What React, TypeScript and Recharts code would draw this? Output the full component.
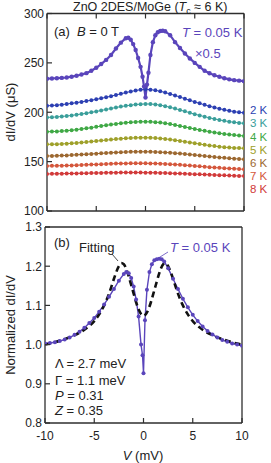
import React from 'react';
import { LineChart, Line, XAxis, YAxis } from 'recharts';

const FONT = '"Liberation Sans", Arial, Helvetica, sans-serif';
const AXIS = '#2e2e2e';
const PURPLE = '#5a45bb';

// bias grid (mV) for the 2-8 K traces
const V_GRID = [
  -10, -9.5, -9, -8.5, -8, -7.5, -7, -6.5, -6, -5.5, -5, -4.5, -4, -3.5, -3, -2.5, -2, -1.5, -1, -0.5,
  0, 0.5, 1, 1.5, 2, 2.5, 3, 3.5, 4, 4.5, 5, 5.5, 6, 6.5, 7, 7.5, 8, 8.5, 9, 9.5, 10,
];

const G_2K = [
  206.5, 206.8, 207.2, 207.7, 208.3, 209, 209.7, 210.5, 211.3, 212.2, 213.1, 214.1, 215.2, 216.3, 217.5, 218.7, 219.9, 221, 222, 222.8,
  223.1, 222.9, 222.2, 221.2, 219.9, 218.5, 217, 215.4, 213.7, 212.1, 210.5, 209, 207.5, 206.1, 204.8, 203.6, 202.5, 201.5, 200.6, 199.9, 199.4,
];
const G_3K = [
  194.8, 195, 195.3, 195.7, 196.2, 196.8, 197.5, 198.2, 199, 199.9, 200.8, 201.8, 202.8, 203.8, 204.8, 205.7, 206.5, 207.2, 207.8, 208.2,
  208.4, 208.3, 207.9, 207.2, 206.2, 205, 203.7, 202.3, 200.9, 199.5, 198.1, 196.8, 195.5, 194.3, 193.2, 192.2, 191.3, 190.5, 189.8, 189.2, 188.8,
];
const G_4K = [
  180.3, 180.4, 180.6, 180.9, 181.3, 181.8, 182.4, 183, 183.7, 184.4, 185.2, 186, 186.8, 187.5, 188.2, 188.8, 189.4, 189.8, 190.2, 190.4,
  190.4, 190.3, 190, 189.5, 188.8, 188, 187.1, 186.1, 185.1, 184.1, 183.1, 182.1, 181.2, 180.3, 179.5, 178.7, 178, 177.4, 176.9, 176.4, 176,
];
const G_5K = [
  167.5, 167.6, 167.7, 167.9, 168.2, 168.5, 168.9, 169.3, 169.8, 170.3, 170.8, 171.3, 171.8, 172.3, 172.8, 173.2, 173.6, 173.9, 174.1, 174.2,
  174.2, 174.1, 173.9, 173.5, 173, 172.4, 171.7, 171, 170.2, 169.4, 168.6, 167.8, 167, 166.3, 165.7, 165.1, 164.6, 164.2, 163.9, 163.7, 163.5,
];
const G_6K = [
  155.7, 155.8, 155.9, 156.1, 156.3, 156.6, 156.9, 157.2, 157.5, 157.8, 158.1, 158.4, 158.7, 159, 159.3, 159.5, 159.7, 159.9, 160, 160,
  160, 159.9, 159.8, 159.6, 159.3, 159, 158.6, 158.2, 157.7, 157.2, 156.7, 156.2, 155.7, 155.2, 154.7, 154.2, 153.8, 153.4, 153, 152.7, 152.4,
];
const G_7K = [
  145.6, 145.7, 145.8, 145.9, 146, 146.2, 146.4, 146.6, 146.8, 147, 147.2, 147.4, 147.6, 147.8, 148, 148.1, 148.2, 148.3, 148.3, 148.3,
  148.3, 148.2, 148.1, 147.9, 147.7, 147.4, 147.1, 146.8, 146.4, 146, 145.6, 145.2, 144.8, 144.4, 144, 143.7, 143.4, 143.1, 142.8, 142.5, 142.2,
];
const G_8K = [
  137.5, 137.6, 137.7, 137.8, 137.9, 138, 138.1, 138.2, 138.3, 138.4, 138.5, 138.6, 138.7, 138.8, 138.8, 138.9, 138.9, 138.9, 138.9, 138.9,
  138.8, 138.8, 138.7, 138.6, 138.5, 138.3, 138.1, 137.9, 137.7, 137.5, 137.3, 137.1, 136.9, 136.7, 136.5, 136.3, 136.1, 135.9, 135.7, 135.5, 135.4,
];

const TEMP_LABELS = ['2 K', '3 K', '4 K', '5 K', '6 K', '7 K', '8 K'];
const TEMP_COLORS = ['#2c3fb2', '#3a9e9a', '#3fa845', '#9ea02a', '#9c6830', '#d4573c', '#d13a3a'];
const TEMP_SERIES = [G_2K, G_3K, G_4K, G_5K, G_6K, G_7K, G_8K];

// 0.05 K trace (x0.5), denser around zero bias
const V_LOW = [
  -10, -9.5, -9, -8.5, -8, -7.5, -7, -6.5, -6, -5.5, -5, -4.5, -4, -3.5, -3, -2.5, -2, -1.75, -1.5, -1.25, -1, -0.75, -0.5, -0.3, -0.15,
  0, 0.15, 0.3, 0.5, 0.75, 1, 1.25, 1.5, 1.75, 2, 2.5, 3, 3.5, 4, 4.5, 5, 5.5, 6, 6.5, 7, 7.5, 8, 8.5, 9, 9.5, 10,
];
const G_LOW = [
  234, 234.2, 234.5, 234.8, 235.2, 236, 237, 238.2, 239.6, 242, 245, 248.8, 253, 258, 264.5, 270.5, 275, 275.5, 273.5, 269, 263, 255, 246, 236, 226,
  215, 228, 240, 258, 271, 278, 281, 282.3, 282.5, 282, 278, 271, 265, 259.5, 254.5, 250, 246, 242, 239.5, 237.5, 236, 234.5, 233.3, 232.5, 232, 231.5,
];

// panel (b): normalized 0.05 K trace
const V_NORM = [
  -10, -9.5, -9, -8.5, -8, -7.5, -7, -6.5, -6, -5.5, -5, -4.5, -4, -3.5, -3, -2.5, -2, -1.75, -1.5, -1.25, -1, -0.75, -0.5, -0.25, -0.1,
  0, 0.15, 0.35, 0.6, 0.85, 1.1, 1.35, 1.6, 1.85, 2.1, 2.5, 3, 3.5, 4, 4.5, 5, 5.5, 6, 6.5, 7, 7.5, 8, 8.5, 9, 9.5, 10,
];
const G_NORM = [
  1.003, 1.004, 1.006, 1.009, 1.013, 1.018, 1.025, 1.033, 1.043, 1.055, 1.068, 1.084, 1.102, 1.122, 1.142, 1.163, 1.18, 1.185, 1.182, 1.17, 1.148, 1.115, 1.072, 1.0, 0.973,
  0.927, 1.062, 1.14, 1.185, 1.205, 1.215, 1.218, 1.219, 1.218, 1.212, 1.195, 1.168, 1.142, 1.117, 1.095, 1.076, 1.06, 1.046, 1.035, 1.026, 1.018, 1.012, 1.007, 1.003, 1.0, 0.997,
];

// fit curve
const V_FIT = [
  -10, -9, -8, -7, -6, -5, -4.5, -4, -3.5, -3, -2.75, -2.5, -2.25, -2, -1.75, -1.5, -1.25, -1, -0.75, -0.5, -0.25,
  0, 0.25, 0.5, 0.75, 1, 1.25, 1.5, 1.75, 2, 2.25, 2.5, 2.75, 3, 3.5, 4, 4.5, 5, 6, 7, 8, 9, 10,
];
const G_FIT = [
  1.0, 1.006, 1.014, 1.024, 1.038, 1.06, 1.077, 1.1, 1.13, 1.168, 1.186, 1.2, 1.208, 1.205, 1.193, 1.174, 1.152, 1.13, 1.108, 1.09, 1.078,
  1.073, 1.078, 1.09, 1.108, 1.13, 1.152, 1.174, 1.193, 1.205, 1.208, 1.2, 1.186, 1.168, 1.13, 1.1, 1.077, 1.06, 1.038, 1.024, 1.014, 1.006, 1.0,
];

const X_TICKS = [-10, -5, 0, 5, 10];
const Y_TICKS_A = [100, 150, 200, 250, 300];
const Y_TICKS_B = [0.8, 0.9, 1.0, 1.1, 1.2, 1.3];

const gridRows = V_GRID.map((v, i) => {
  const row: Record<string, number> = { v };
  TEMP_SERIES.forEach((s, k) => (row['g' + k] = s[i]));
  return row;
});
const lowRows = V_LOW.map((v, i) => ({ v, g: G_LOW[i] }));
const normRows = V_NORM.map((v, i) => ({ v, g: G_NORM[i] }));
const fitRows = V_FIT.map((v, i) => ({ v, g: G_FIT[i] }));

const TL = 5; // inward tick length

// custom ticks: label outside, short mark pointing into the plot
const LeftTick = ({ x, y, payload, digits }: any) => (
  <g>
    <line x1={x} x2={x + TL} y1={y} y2={y} stroke={AXIS} strokeWidth={1.2} />
    <text x={x - 3} y={y} dy="0.36em" textAnchor="end" fontSize={12} fill="#222" fontFamily={FONT}>
      {digits ? Number(payload.value).toFixed(digits) : payload.value}
    </text>
  </g>
);
const RightTick = ({ x, y }: any) => <line x1={x} x2={x - TL} y1={y} y2={y} stroke={AXIS} strokeWidth={1.2} />;
const TopTick = ({ x, y }: any) => <line x1={x} x2={x} y1={y} y2={y + TL} stroke={AXIS} strokeWidth={1.2} />;
const BottomTick = ({ x, y, payload, label }: any) => (
  <g>
    <line x1={x} x2={x} y1={y} y2={y - TL} stroke={AXIS} strokeWidth={1.2} />
    {label && (
      <text x={x} y={y + 17} textAnchor="middle" fontSize={12} fill="#222" fontFamily={FONT}>{payload.value}</text>
    )}
  </g>
);

const axisCommon = { stroke: AXIS, strokeWidth: 1.3, tickLine: false, tickSize: 0, tickMargin: 0, interval: 0 as const };

export default function App() {
  return (
    <div style={{ position: 'fixed', left: 0, top: 0, width: 271, height: 463, background: '#fff', fontFamily: FONT }}>
      {/* (a) raw conductance */}
      <div style={{ position: 'absolute', left: 0, top: 0 }}>
        <LineChart width={271} height={225} data={gridRows} margin={{ top: 0, right: 0, bottom: 0, left: 0 }}>
          <XAxis xAxisId="b" type="number" dataKey="v" domain={[-10, 10]} ticks={X_TICKS} orientation="bottom" height={14}
            tick={<BottomTick />} allowDataOverflow {...axisCommon} />
          <XAxis xAxisId="t" type="number" dataKey="v" domain={[-10, 10]} ticks={X_TICKS} orientation="top" height={13.5}
            tick={<TopTick />} {...axisCommon} />
          <YAxis yAxisId="l" type="number" domain={[100, 300]} ticks={Y_TICKS_A} width={47}
            tick={<LeftTick />} allowDataOverflow {...axisCommon} />
          <YAxis yAxisId="r" orientation="right" type="number" domain={[100, 300]} ticks={Y_TICKS_A} width={27}
            tick={<RightTick />} {...axisCommon} />
          {TEMP_SERIES.map((_, k) => (
            <Line key={k} xAxisId="b" yAxisId="l" type="linear" dataKey={'g' + k} stroke={TEMP_COLORS[k]} strokeWidth={1}
              dot={{ r: 2, fill: TEMP_COLORS[k], stroke: TEMP_COLORS[k], strokeWidth: 0 }} isAnimationActive={false} />
          ))}
          <Line xAxisId="b" yAxisId="l" data={lowRows} type="linear" dataKey="g" stroke={PURPLE} strokeWidth={2.2}
            dot={{ r: 2.2, fill: PURPLE, stroke: PURPLE, strokeWidth: 0 }} isAnimationActive={false} />
        </LineChart>
      </div>

      {/* (b) normalized + fit */}
      <div style={{ position: 'absolute', left: 0, top: 214 }}>
        <LineChart width={271} height={249} margin={{ top: 0, right: 0, bottom: 0, left: 0 }}>
          <XAxis xAxisId="b" type="number" dataKey="v" domain={[-10, 10]} ticks={X_TICKS} orientation="bottom" height={40}
            tick={<BottomTick label />} allowDataOverflow {...axisCommon} />
          <XAxis xAxisId="t" type="number" dataKey="v" domain={[-10, 10]} ticks={X_TICKS} orientation="top" height={13}
            tick={<TopTick />} {...axisCommon} />
          <YAxis yAxisId="l" type="number" domain={[0.8, 1.3]} ticks={Y_TICKS_B} width={45}
            tick={<LeftTick digits={1} />} allowDataOverflow {...axisCommon} />
          <YAxis yAxisId="r" orientation="right" type="number" domain={[0.8, 1.3]} ticks={Y_TICKS_B} width={29}
            tick={<RightTick />} {...axisCommon} />
          <Line xAxisId="b" yAxisId="l" data={normRows} type="linear" dataKey="g" stroke={PURPLE} strokeWidth={1.4}
            dot={{ r: 2, fill: PURPLE, stroke: PURPLE, strokeWidth: 0 }} isAnimationActive={false} />
          <Line xAxisId="b" yAxisId="l" data={fitRows} type="monotone" dataKey="g" stroke="#111" strokeWidth={2.6}
            strokeDasharray="6 4" dot={false} isAnimationActive={false} />
        </LineChart>
      </div>

      <svg width={271} height={463} style={{ position: 'absolute', left: 0, top: 0, pointerEvents: 'none' }}
        fontFamily={FONT} fill="#222">
        <text x={73} y={11} fontSize={12.5}>
          ZnO 2DES/MoGe (<tspan fontStyle="italic">T</tspan><tspan fontSize={9} dy={3}>c</tspan><tspan dy={-3}> ≈ 6 K)</tspan>
        </text>
        <text transform="translate(15,112) rotate(-90)" textAnchor="middle" fontSize={13}>dI/dV (μS)</text>
        <text transform="translate(15,325) rotate(-90)" textAnchor="middle" fontSize={13}>Normalized dI/dV</text>

        <text x={54} y={36} fontSize={13}>(a)</text>
        <text x={77} y={36} fontSize={13}><tspan fontStyle="italic">B</tspan> = 0 T</text>
        <text x={182} y={37} fontSize={13} fill={PURPLE}><tspan fontStyle="italic">T</tspan> = 0.05 K</text>
        <text x={195} y={58} fontSize={13} fill={PURPLE}>×0.5</text>
        {TEMP_LABELS.map((t, k) => (
          <text key={t} x={250} y={[114, 127, 140.5, 154, 167, 180, 193][k]} fontSize={11.5} fill={TEMP_COLORS[k]}>{t}</text>
        ))}

        <text x={54} y={247} fontSize={13}>(b)</text>
        <text x={79} y={252} fontSize={13}>Fitting</text>
        <line x1={112} y1={254} x2={118} y2={261} stroke="#222" strokeWidth={0.8} />
        <text x={170} y={252} fontSize={13} fill={PURPLE}><tspan fontStyle="italic">T</tspan> = 0.05 K</text>
        <line x1={168} y1={252} x2={160} y2={257} stroke={PURPLE} strokeWidth={0.8} />

        <text x={55} y={368} fontSize={13}>Λ = 2.7 meV</text>
        <text x={55} y={385} fontSize={13}>Γ = 1.1 meV</text>
        <text x={55} y={400} fontSize={13}><tspan fontStyle="italic">P</tspan> = 0.31</text>
        <text x={55} y={415} fontSize={13}><tspan fontStyle="italic">Z</tspan> = 0.35</text>

        <text x={143} y={460} fontSize={13} textAnchor="middle"><tspan fontStyle="italic">V</tspan> (mV)</text>
      </svg>
    </div>
  );
}
